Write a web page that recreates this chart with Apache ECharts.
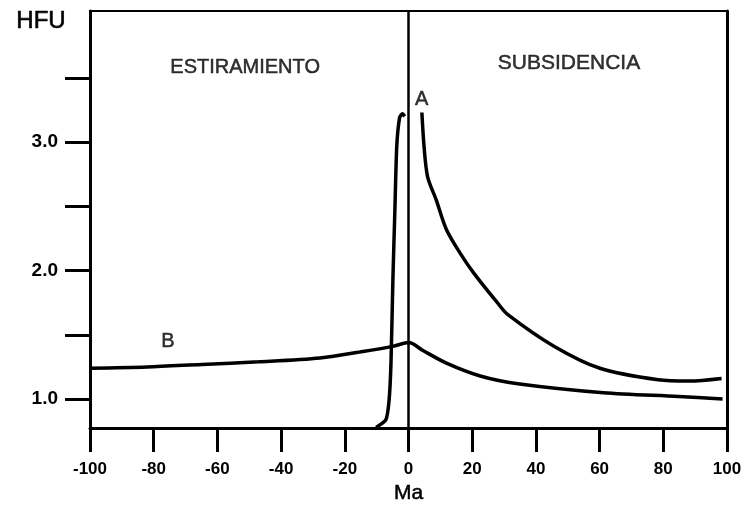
<!DOCTYPE html>
<html><head><meta charset="utf-8">
<script src="https://cdn.jsdelivr.net/npm/echarts@6/dist/echarts.min.js"></script>
<style>html,body{margin:0;padding:0;background:#fff}#c{width:748px;height:506px}</style>
</head><body><div id="c"></div>
<script>
// ---- data ----
const xMin = -100, xMax = 100, xStep = 20;
const yMin = 0.775, yMax = 4.02;
const yLabelValues = [1, 2, 3];
const yTickValues = [1, 1.5, 2, 2.5, 3, 3.5];
const zeroLine = 0;

// Curve A, rising branch (stretching)
const curveARise = [
  [-10.2, 0.78], [-7.1, 0.84], [-6.1, 0.99], [-5.5, 1.28], [-4.9, 1.93],
  [-4.3, 2.45], [-3.7, 2.96], [-2.8, 3.19], [-1.9, 3.22], [-1.2, 3.20]
];
// Curve A, decaying branch (subsidence)
const curveADecay = [
  [4.2, 3.23], [4.9, 2.96], [6.0, 2.73], [8.7, 2.55], [11.9, 2.32],
  [16.1, 2.14], [20.5, 1.98], [27.9, 1.75], [31.1, 1.66], [45.8, 1.41],
  [60.1, 1.24], [78.4, 1.15], [88.1, 1.14], [98.3, 1.16]
];
// Curve B
const curveB = [
  [-100, 1.24], [-82.1, 1.25], [-64.9, 1.27], [-47.0, 1.29], [-27.8, 1.32],
  [-14.3, 1.37], [-5.0, 1.41], [0.1, 1.44], [4.4, 1.38], [11.9, 1.28],
  [22.5, 1.18], [34.3, 1.12], [61.2, 1.05], [84.8, 1.02], [98.6, 1.00]
];
// Text annotations (data coordinates)
const annotationTexts = ['ESTIRAMIENTO', 'SUBSIDENCIA', 'A', 'B'];
const annotationX = [-51.3, 50.4, 4.1, -75.5];
const annotationY = [3.58, 3.61, 3.33, 1.45];
const annotationSizes = [20, 21, 20, 20];
const yTitle = 'HFU';
const xTitle = 'Ma';

const FONT = '"Liberation Sans", Arial, sans-serif';
const chart = echarts.init(document.getElementById('c'), null, {renderer: 'canvas'});

const lineStyle = {color: '#000', width: 3.5};
const annData = annotationTexts.map((t, i) => ({
  name: t, value: [annotationX[i], annotationY[i]],
  label: {fontSize: annotationSizes[i]}
}));

chart.setOption({
  animation: false,
  backgroundColor: '#fff',
  textStyle: {color: '#000', fontFamily: FONT},
  grid: {left: 90, right: 21, top: 11, bottom: 78, containLabel: false, outerBoundsMode: 'none'},
  graphic: [{
    type: 'text', left: 16, top: 9,
    style: {text: yTitle, fontSize: 24, fontFamily: FONT, fill: '#000',
            stroke: '#000', lineWidth: 0.6}
  }],
  xAxis: [{
    type: 'value', min: xMin, max: xMax, interval: xStep,
    name: xTitle, nameLocation: 'middle', nameGap: 54,
    nameTextStyle: {fontSize: 21, fontFamily: FONT, color: '#000',
                    textBorderColor: '#000', textBorderWidth: 0.5},
    axisLine: {show: true, onZero: false, lineStyle: {color: '#000', width: 3}},
    axisTick: {show: true, inside: false, length: 24, lineStyle: {color: '#000', width: 3}},
    axisLabel: {margin: 33, fontSize: 17, fontWeight: 'bold', fontFamily: FONT, color: '#000'},
    splitLine: {show: false}
  }, {
    type: 'value', position: 'top', min: xMin, max: xMax,
    axisLine: {show: true, onZero: false, lineStyle: {color: '#000', width: 2}},
    axisTick: {show: false}, axisLabel: {show: false}, splitLine: {show: false}
  }],
  yAxis: [{
    type: 'value', min: yMin, max: yMax,
    axisLine: {show: true, onZero: false, lineStyle: {color: '#000', width: 3}},
    axisTick: {show: true, inside: false, length: 25, customValues: yTickValues,
               lineStyle: {color: '#000', width: 3}},
    axisLabel: {margin: 32, customValues: yLabelValues, fontSize: 19, fontWeight: 'bold',
                fontFamily: FONT, color: '#000', formatter: v => Number(v).toFixed(1)},
    splitLine: {show: false}
  }, {
    type: 'value', position: 'right', min: yMin, max: yMax,
    axisLine: {show: true, onZero: false, lineStyle: {color: '#000', width: 3}},
    axisTick: {show: false}, axisLabel: {show: false}, splitLine: {show: false}
  }],
  series: [{
    type: 'line', data: curveARise, showSymbol: false, smooth: 0.2,
    lineStyle: lineStyle, clip: true
  }, {
    type: 'line', data: curveADecay, showSymbol: false, smooth: 0.3,
    lineStyle: lineStyle, clip: true
  }, {
    type: 'line', data: curveB, showSymbol: false, smooth: 0.3,
    lineStyle: lineStyle, clip: true,
    markLine: {
      silent: true, symbol: ['none', 'none'], label: {show: false},
      lineStyle: {color: '#000', width: 2.5, type: 'solid'},
      data: [{xAxis: zeroLine}]
    }
  }, {
    type: 'scatter', data: annData, symbolSize: 0, silent: true,
    label: {show: true, position: [0, 0], align: 'center', verticalAlign: 'middle',
            formatter: p => p.name, fontFamily: FONT, color: '#000',
            textBorderColor: '#000', textBorderWidth: 0.5}
  }]
});
</script></body></html>
